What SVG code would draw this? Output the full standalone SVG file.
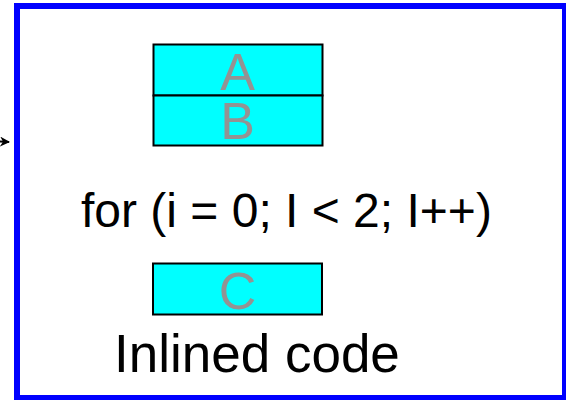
<svg xmlns="http://www.w3.org/2000/svg" width="566" height="400" viewBox="0 0 566 400">
<style>
.box{fill:#00FFFF;stroke:#000;stroke-width:2}
.lbl{font-family:"Liberation Sans",Arial,sans-serif;font-size:52px;fill:#939393;text-anchor:middle}
.txt{font-family:"Liberation Sans",Arial,sans-serif;fill:#000}
</style>
<defs>
<marker id="ah" markerWidth="10" markerHeight="10" refX="9" refY="5" orient="auto" markerUnits="userSpaceOnUse">
<path d="M0,0 L10,5 L0,10 L3,5 Z" fill="#000"/>
</marker>
</defs>
<g id="frame">
<rect x="17" y="6" width="548" height="392" fill="#fff" stroke="#0000FF" stroke-width="6"/>
</g>
<g id="connectors">
<line x1="-10" y1="141" x2="9" y2="142" stroke="#000" stroke-width="2" marker-end="url(#ah)"/>
</g>
<g id="nodeA">
<rect class="box" x="153.5" y="44.5" width="169" height="51"/>
<text class="lbl" x="237.5" y="90">A</text>
</g>
<g id="nodeB">
<rect class="box" x="153.5" y="95.5" width="169" height="50"/>
<text class="lbl" x="237.5" y="138.5">B</text>
</g>
<g id="loop">
<text class="txt" x="81" y="227" font-size="48">for (i = 0; I &lt; 2; I++)</text>
</g>
<g id="nodeC">
<rect class="box" x="153" y="263.5" width="169" height="51"/>
<text class="lbl" x="237.5" y="309">C</text>
</g>
<g id="caption">
<text class="txt" x="114" y="372" font-size="53">Inlined code</text>
</g>
</svg>
